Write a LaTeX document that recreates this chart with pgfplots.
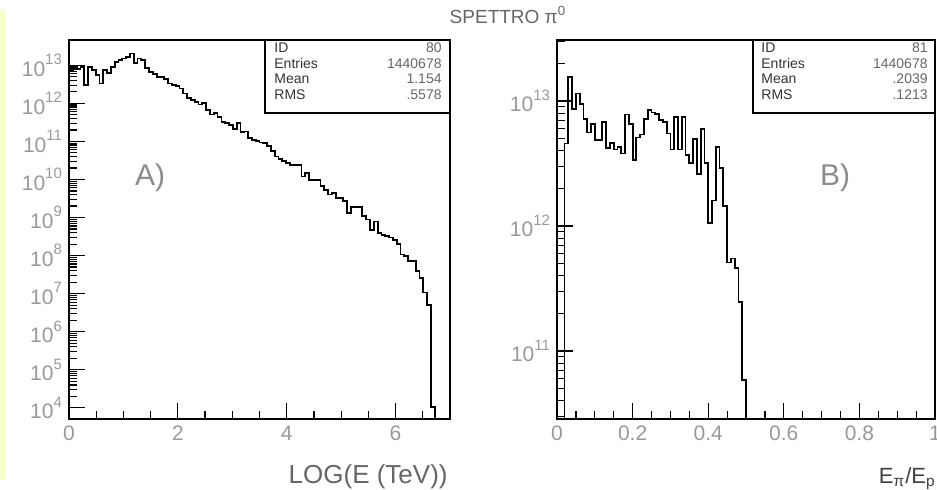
\documentclass[border=0pt]{standalone}
\usepackage{fontspec}
\setmainfont{Liberation Sans}
\usepackage{pgfplots}
\pgfplotsset{compat=1.18}
\definecolor{txt}{gray}{0.6}
\definecolor{strip}{HTML}{F8FFC8}
\newcommand{\ex}[1]{10\raisebox{0.55em}{\fontsize{7.5}{8}\selectfont #1}}
\pgfplotsset{
  paw/.style={
    scale only axis,
    axis line style={line width=0.9pt},
    tick align=inside, tick pos=left,
    major tick length=8pt, minor tick length=4pt,
    every tick/.style={black, line width=0.6pt},
    tick label style={text=txt, font=\fontsize{10.5}{12}\selectfont},
  }
}
\begin{document}
\begin{tikzpicture}
\useasboundingbox (0pt,0pt) rectangle (468.5pt,244.5pt);
\fill[strip] (0pt,4.5pt) rectangle (2.5pt,240pt);

\begin{axis}[ymode=log, paw, at={(34.5pt,35pt)}, anchor=south west, width=190.5pt, height=189.5pt,
  xmin=0, xmax=7, ymin=5.1e3, ymax=4.6e13,
  xtick={0,2,4,6}, xticklabels={0,2,4,6},
  minor xtick={0.5,1,1.5,2.5,3,3.5,4.5,5,5.5,6.5},
  ytick={1e4,1e5,1e6,1e7,1e8,1e9,1e10,1e11,1e12,1e13},
  yticklabels={\ex{4},\ex{5},\ex{6},\ex{7},\ex{8},\ex{9},\ex{10},\ex{11},\ex{12},\ex{13}},
  ]
\addplot[const plot, black, line width=0.9pt] coordinates {
(0,1e3) (0,7.1e12) (0.07,8.9e12) (0.14,7.9e12) (0.21,8.9e12) (0.28,3.0e12)
(0.35,9.1e12) (0.42,7.4e12) (0.49,5.5e12) (0.56,3.3e12) (0.63,7.4e12)
(0.70,6.3e12) (0.77,9.1e12) (0.84,1.23e13) (0.91,1.38e13) (0.98,1.51e13)
(1.05,1.66e13) (1.12,2.04e13) (1.19,1.12e13) (1.26,1.51e13) (1.33,1.38e13)
(1.40,8.3e12) (1.47,6.8e12) (1.54,5.9e12) (1.61,5.0e12) (1.68,5.0e12)
(1.75,4.4e12) (1.82,3.3e12) (1.89,3.0e12) (1.96,2.9e12) (2.03,2.45e12)
(2.10,1.82e12) (2.17,1.41e12) (2.24,1.23e12) (2.31,1.07e12) (2.38,9.3e11)
(2.45,1.0e12) (2.52,6.8e11) (2.59,5.1e11) (2.66,5.5e11) (2.73,4.3e11)
(2.80,3.3e11) (2.87,3.0e11) (2.94,2.7e11) (3.01,2.1e11) (3.08,3.0e11)
(3.15,1.74e11) (3.22,1.82e11) (3.29,1.2e11) (3.36,1.1e11) (3.43,1.0e11)
(3.50,9.3e10) (3.57,8.9e10) (3.64,7.4e10) (3.71,5.5e10) (3.78,4.0e10)
(3.85,3.5e10) (3.92,3.0e10) (3.99,2.7e10) (4.06,2.45e10) (4.13,2.45e10)
(4.20,2.45e10) (4.27,1.2e10) (4.34,1.48e10) (4.41,9.5e9) (4.48,9.5e9)
(4.55,9.5e9) (4.62,6.6e9) (4.69,5.4e9) (4.76,4.0e9) (4.83,4.4e9)
(4.90,3.2e9) (4.97,3.2e9) (5.04,2.7e9) (5.11,1.32e9) (5.18,1.86e9)
(5.25,1.86e9) (5.32,1.86e9) (5.39,1.07e9) (5.46,8.9e8) (5.53,4.8e8)
(5.60,7.9e8) (5.67,4.0e8) (5.74,3.5e8) (5.81,3.2e8) (5.88,3.0e8)
(5.95,2.6e8) (6.02,2.0e8) (6.09,1.07e8) (6.16,9.8e7) (6.23,7.1e7)
(6.30,7.1e7) (6.37,3.9e7) (6.44,2.6e7) (6.51,1.07e7) (6.58,5.0e6)
(6.65,1.07e4) (6.72,1e3)
};
\end{axis}

\begin{axis}[ymode=log, paw, at={(278.5pt,35pt)}, anchor=south west, width=189pt, height=189.5pt,
  xmin=0, xmax=1, ymin=2.86e10, ymax=3.08e13,
  xtick={0,0.2,0.4,0.6,0.8,1}, xticklabels={0,0.2,0.4,0.6,0.8,1},
  minor xtick={0.05,0.1,0.15,0.25,0.3,0.35,0.45,0.5,0.55,0.65,0.7,0.75,0.85,0.9,0.95},
  ytick={1e11,1e12,1e13},
  minor ytick={3e10,4e10,5e10,6e10,7e10,8e10,9e10,2e11,3e11,4e11,5e11,6e11,7e11,8e11,9e11,2e12,3e12,4e12,5e12,6e12,7e12,8e12,9e12,2e13,3e13},
  yticklabels={\ex{11},\ex{12},\ex{13}},
  ]
\addplot[const plot, black, line width=0.9pt] coordinates {
(0.02,1e9) (0.02,4.57e12) (0.03,1.55e13) (0.04,8.7e12) (0.05,1.15e13)
(0.06,9.5e12) (0.07,7.2e12) (0.08,5.6e12) (0.09,6.6e12) (0.10,4.9e12)
(0.11,4.9e12) (0.12,6.8e12) (0.13,4.2e12) (0.14,4.6e12) (0.15,4.1e12)
(0.16,4.3e12) (0.17,3.8e12) (0.18,7.8e12) (0.19,6.6e12) (0.20,3.4e12)
(0.21,5.1e12) (0.22,5.4e12) (0.23,7.2e12) (0.24,8.5e12) (0.25,8.1e12)
(0.26,7.9e12) (0.27,7.1e12) (0.28,6.8e12) (0.29,5.5e12) (0.30,4.1e12)
(0.31,7.4e12) (0.32,4.1e12) (0.33,7.4e12) (0.34,3.7e12) (0.35,3.2e12)
(0.36,5.0e12) (0.37,2.6e12) (0.38,6.0e12) (0.39,3.2e12) (0.40,1.05e12)
(0.41,1.6e12) (0.42,4.3e12) (0.43,2.9e12) (0.44,1.45e12) (0.45,5.1e11)
(0.46,5.5e11) (0.47,4.6e11) (0.48,2.45e11) (0.49,5.9e10) (0.50,1e9)
};
\end{axis}

% statistics boxes
\draw[line width=0.8pt] (132.5pt,188pt) rectangle (225pt,224.5pt);
\draw[line width=0.8pt] (376.5pt,188pt) rectangle (467.5pt,224.5pt);
\begin{scope}[every node/.style={font=\fontsize{7}{8}\selectfont, inner sep=0pt}]
\node[anchor=base west, text=black!80] at (137pt,218.5pt) {ID};
\node[anchor=base west, text=black!80] at (137pt,210.5pt) {Entries};
\node[anchor=base west, text=black!80] at (137pt,203pt) {Mean};
\node[anchor=base west, text=black!80] at (137pt,195pt) {RMS};
\node[anchor=base east, text=black!60] at (221pt,218.5pt) {80};
\node[anchor=base east, text=black!60] at (221pt,210.5pt) {1440678};
\node[anchor=base east, text=black!60] at (221pt,203pt) {1.154};
\node[anchor=base east, text=black!60] at (221pt,195pt) {.5578};
\node[anchor=base west, text=black!80] at (380.5pt,218.5pt) {ID};
\node[anchor=base west, text=black!80] at (380.5pt,210.5pt) {Entries};
\node[anchor=base west, text=black!80] at (380.5pt,203pt) {Mean};
\node[anchor=base west, text=black!80] at (380.5pt,195pt) {RMS};
\node[anchor=base east, text=black!60] at (464pt,218.5pt) {81};
\node[anchor=base east, text=black!60] at (464pt,210.5pt) {1440678};
\node[anchor=base east, text=black!60] at (464pt,203pt) {.2039};
\node[anchor=base east, text=black!60] at (464pt,195pt) {.1213};
\end{scope}

\node[font=\fontsize{9.5}{11}\selectfont, text=black!60] at (254pt,237pt) {SPETTRO π\textsuperscript{0}};
\node[font=\fontsize{15}{17}\selectfont, text=black!45] at (75pt,155.5pt) {A)};
\node[font=\fontsize{15}{17}\selectfont, text=black!45] at (417.5pt,155.5pt) {B)};
\node[anchor=base east, font=\fontsize{13}{15}\selectfont, text=black!60, inner sep=0pt] at (224pt,3pt) {LOG(E (TeV))};
\node[anchor=base east, font=\fontsize{11}{13}\selectfont, text=black!75, inner sep=0pt] at (468pt,3pt) {E\textsubscript{π}/E\textsubscript{p}};
\end{tikzpicture}
\end{document}
